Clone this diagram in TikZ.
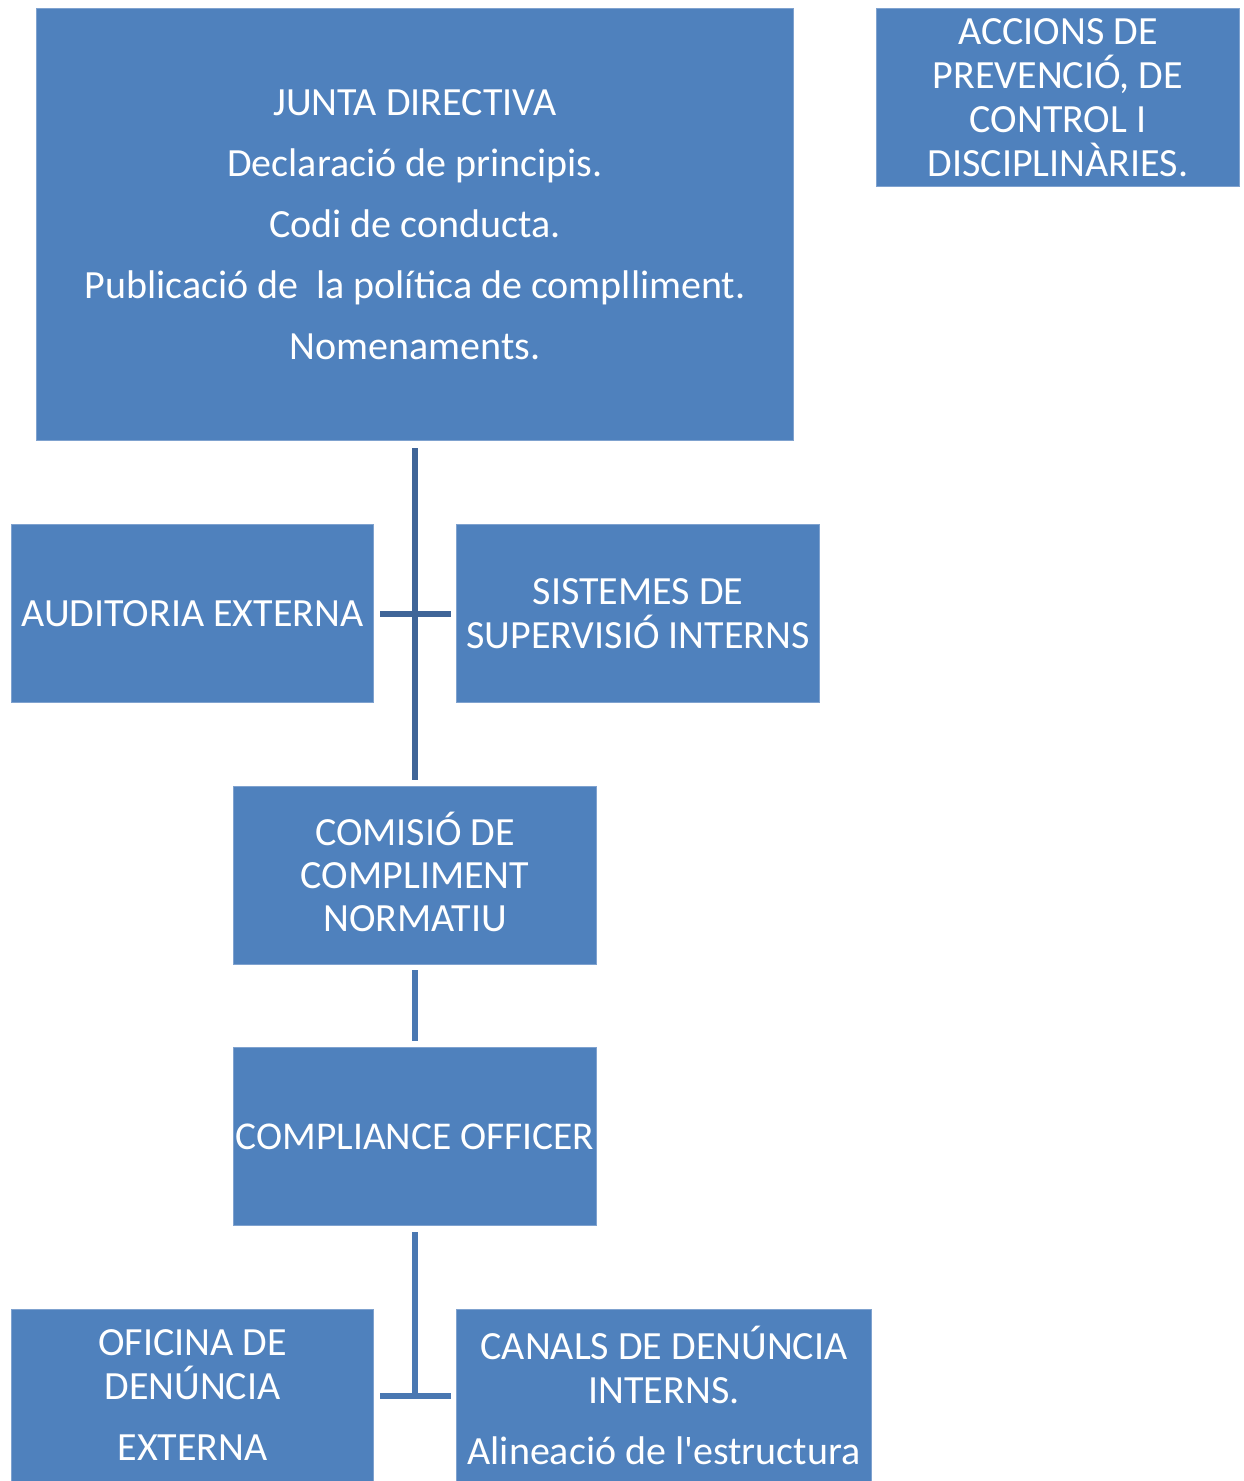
\documentclass[tikz,border=0pt]{standalone}
\usepackage{fontspec}
\setmainfont{Carlito}
\definecolor{boxblue}{HTML}{4F81BD}
\definecolor{boxedge}{HTML}{7FA2CF}
\definecolor{linkdark}{HTML}{3F6598}
\definecolor{linkmid}{HTML}{4A78B2}
\begin{document}
\begin{tikzpicture}[x=1pt,y=-1pt,
  box/.style={fill=boxblue, draw=boxedge, line width=1pt, text=white, align=center,
    inner sep=0pt, font=\fontsize{40}{44}\selectfont, anchor=north west},
  link/.style={line width=6pt, draw=linkdark},
  linkb/.style={line width=6pt, draw=linkmid}]
\useasboundingbox (0,0) rectangle (1243,1481);
\clip (0,0) rectangle (1243,1481);
\fill[white] (0,0) rectangle (1243,1481);
\node[box, minimum width=757pt, minimum height=432pt] (junta) at (36,8)
  {JUNTA DIRECTIVA\\[17pt] Declaració de principis.\\[17pt] Codi de conducta.\\[17pt]
   Publicació de\ \ la política de complliment.\\[17pt] Nomenaments.};
\node[box, minimum width=363pt, minimum height=178pt] (accions) at (876,8)
  {ACCIONS DE\\ PREVENCIÓ, DE\\ CONTROL I\\ DISCIPLINÀRIES.};
\node[box, minimum width=362pt, minimum height=178pt] (auditoria) at (11,524)
  {AUDITORIA EXTERNA};
\node[box, minimum width=363pt, minimum height=178pt] (sistemes) at (456,524)
  {SISTEMES DE\\ SUPERVISIÓ INTERNS};
\node[box, minimum width=363pt, minimum height=178pt,
  font=\fontsize{40}{43}\selectfont, text depth=8pt] (comisio) at (233,786)
  {COMISIÓ DE\\ COMPLIMENT\\ NORMATIU};
\node[box, minimum width=363pt, minimum height=178pt,
  font=\fontsize{39.4}{44}\selectfont] (compliance) at (233,1047)
  {COMPLIANCE OFFICER};
\node[box, minimum width=362pt, minimum height=172pt] (oficina) at (11,1309)
  {OFICINA DE\\ DENÚNCIA\\[17pt] EXTERNA};
\node[box, minimum width=415pt, minimum height=172pt] (canals) at (456,1309)
  {CANALS DE DENÚNCIA\\ INTERNS.\\[17pt] Alineació de l\textquotesingle estructura};
\draw[link] ([yshift=-7pt]junta.south) -- ([yshift=6pt]comisio.north);
\draw[link] ([xshift=6pt]auditoria.east) -- ([xshift=-5pt]sistemes.west);
\draw[linkb] ([yshift=-5pt]comisio.south) -- ([yshift=6pt]compliance.north);
\draw[linkb] ([yshift=-6pt]compliance.south) -- (compliance.south |- oficina.east);
\draw[linkb] ([xshift=6pt]oficina.east) -- ([xshift=-5pt]canals.west);
\end{tikzpicture}
\end{document}
